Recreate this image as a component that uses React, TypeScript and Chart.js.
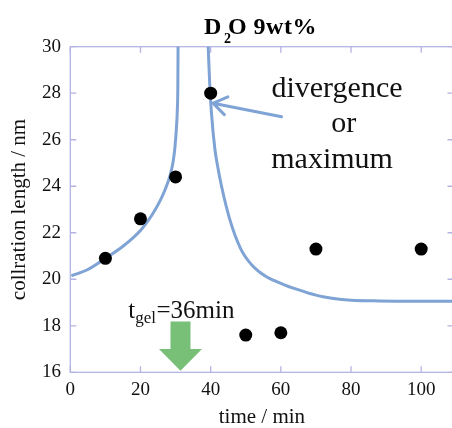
import React, { useEffect, useRef } from "react";
import { Chart, registerables } from "chart.js";

Chart.register(...registerables);

// measured data points
const timeMin = [10, 20, 30, 40, 50, 60, 70, 100];
const corrLength = [20.9, 22.6, 24.4, 28.0, 17.6, 17.7, 21.3, 21.3];

// guide curve: branch before the divergence
const fitLeftT = [0.3, 5, 10, 15, 20, 23, 25.5, 27, 28.4, 29.3, 29.8, 30.2, 30.5, 30.65, 30.72];
const fitLeftY = [20.15, 20.42, 20.9, 21.42, 22.1, 22.7, 23.35, 23.85, 24.45, 25.05, 25.65, 26.4, 27.3, 28.4, 30.4];

// branch after the divergence
const fitRightT = [39.2, 39.4, 39.7, 40.2, 41.2, 42, 43.1, 45.4, 48.6, 51.8, 54, 56, 58, 60, 62, 64, 66, 68, 70, 72, 75, 80, 88, 100, 110];
const fitRightY = [30.4, 29.6, 28.5, 27.2, 25.6, 24.85, 24.0, 22.6, 21.3, 20.6, 20.3, 20.1, 19.95, 19.82, 19.7, 19.6, 19.5, 19.4, 19.32, 19.25, 19.17, 19.1, 19.07, 19.06, 19.06];

const xTicks = [0, 20, 40, 60, 80, 100];
const yTicks = [16, 18, 20, 22, 24, 26, 28, 30];

const titleMain = "D";
const titleSub = "2";
const titleRest = "O";
const titleTail = "9wt%";
const xTitle = "time / min";
const yTitle = "collration length / nm";
const noteLines = ["divergence", "or", "maximum"];
const gelMain = "t";
const gelSub = "gel";
const gelRest = "=36min";

const SERIF = "'Liberation Serif', 'Times New Roman', serif";
const FRAME = "#b4b4e4";
const CURVE = "#7ea3d4";
const GREEN = "#78bf78";

const overlay = {
  id: "overlay",
  beforeDatasetsDraw(chart: any) {
    const { ctx, chartArea: a, scales } = chart;
    const xs = scales.x;
    const ys = scales.y;
    ctx.save();
    ctx.strokeStyle = FRAME;
    ctx.lineWidth = 1.3;
    ctx.strokeRect(a.left, a.top, a.right - a.left, a.bottom - a.top);
    const tl = 6;
    ctx.beginPath();
    xTicks.forEach((v) => {
      const px = xs.getPixelForValue(v);
      ctx.moveTo(px, a.bottom);
      ctx.lineTo(px, a.bottom - tl);
      ctx.moveTo(px, a.top);
      ctx.lineTo(px, a.top + tl);
    });
    yTicks.forEach((v) => {
      const py = ys.getPixelForValue(v);
      ctx.moveTo(a.left, py);
      ctx.lineTo(a.left + tl, py);
      ctx.moveTo(a.right, py);
      ctx.lineTo(a.right - tl, py);
    });
    ctx.stroke();
    ctx.restore();
  },
  afterDatasetsDraw(chart: any) {
    const { ctx, chartArea: a, scales } = chart;
    const xs = scales.x;
    const ys = scales.y;
    const X = (v: number) => xs.getPixelForValue(v);
    const Y = (v: number) => ys.getPixelForValue(v);
    ctx.save();

    // title  D2O 9wt%
    ctx.fillStyle = "#000";
    ctx.textBaseline = "alphabetic";
    ctx.textAlign = "left";
    const fBig = `bold 24px ${SERIF}`;
    const fSub = `bold 14px ${SERIF}`;
    const x0 = (a.left + a.right) / 2 - 58;
    const tBase = 34;
    ctx.font = fBig;
    ctx.fillText(titleMain, x0, tBase);
    ctx.font = fSub;
    ctx.fillText(titleSub, x0 + 20, tBase + 9);
    ctx.font = fBig;
    ctx.fillText(titleRest, x0 + 24, tBase);
    const wO = ctx.measureText(titleRest).width;
    (ctx as any).letterSpacing = "0.5px";
    ctx.fillText(titleTail, x0 + 24 + wO + 7, tBase);
    (ctx as any).letterSpacing = "0px";

    // divergence / or / maximum
    ctx.fillStyle = "#111";
    ctx.font = `30px ${SERIF}`;
    ctx.textAlign = "center";
    ctx.fillText(noteLines[0], X(76), Y(27.85));
    ctx.fillText(noteLines[1], X(77.9), Y(26.33));
    ctx.fillText(noteLines[2], X(74.6), Y(24.78));

    // blue pointer arrow
    const tailX = X(60.2), tailY = Y(26.99);
    const tipX = X(40.7), tipY = Y(27.57);
    ctx.strokeStyle = CURVE;
    ctx.lineWidth = 3;
    ctx.lineCap = "round";
    ctx.beginPath();
    ctx.moveTo(tailX, tailY);
    ctx.lineTo(tipX, tipY);
    const ang = Math.atan2(tailY - tipY, tailX - tipX);
    const len = 16;
    const spread = 0.6;
    ctx.moveTo(tipX + len * Math.cos(ang - spread), tipY + len * Math.sin(ang - spread));
    ctx.lineTo(tipX, tipY);
    ctx.lineTo(tipX + len * Math.cos(ang + spread), tipY + len * Math.sin(ang + spread));
    ctx.stroke();

    // t_gel label
    ctx.textAlign = "left";
    ctx.fillStyle = "#111";
    const gx = X(16.5), gy = Y(18.32);
    ctx.font = `25px ${SERIF}`;
    ctx.fillText(gelMain, gx, gy);
    const wt = ctx.measureText(gelMain).width;
    ctx.font = `17px ${SERIF}`;
    ctx.fillText(gelSub, gx + wt, gy + 4.5);
    const wg = ctx.measureText(gelSub).width;
    ctx.font = `25px ${SERIF}`;
    ctx.fillText(gelRest, gx + wt + wg + 0.5, gy);

    // green block arrow
    const cxp = X(31.4);
    const shaftHalf = 10;
    const headHalf = 21.5;
    const sTop = Y(18.18), hTop = Y(17.0), tip = Y(16.07);
    ctx.fillStyle = GREEN;
    ctx.beginPath();
    ctx.moveTo(cxp - shaftHalf, sTop);
    ctx.lineTo(cxp + shaftHalf, sTop);
    ctx.lineTo(cxp + shaftHalf, hTop);
    ctx.lineTo(cxp + headHalf, hTop);
    ctx.lineTo(cxp, tip);
    ctx.lineTo(cxp - headHalf, hTop);
    ctx.lineTo(cxp - shaftHalf, hTop);
    ctx.closePath();
    ctx.fill();

    ctx.restore();
  },
};

export default function App() {
  const ref = useRef<HTMLCanvasElement | null>(null);

  useEffect(() => {
    if (!ref.current) return;
    const tickFont = { family: SERIF, size: 19 };
    const chart = new Chart(ref.current, {
      data: {
        datasets: [
          {
            type: "scatter",
            data: timeMin.map((t, i) => ({ x: t, y: corrLength[i] })),
            pointRadius: 6.5,
            pointHoverRadius: 6.5,
            pointBackgroundColor: "#000",
            pointBorderWidth: 0,
            order: 0,
          } as any,
          {
            type: "line",
            data: fitLeftT.map((t, i) => ({ x: t, y: fitLeftY[i] })),
            borderColor: CURVE,
            borderWidth: 3,
            pointRadius: 0,
            cubicInterpolationMode: "monotone",
            fill: false,
            clip: 0,
            order: 1,
          } as any,
          {
            type: "line",
            data: fitRightT.map((t, i) => ({ x: t, y: fitRightY[i] })),
            borderColor: CURVE,
            borderWidth: 3,
            pointRadius: 0,
            cubicInterpolationMode: "monotone",
            fill: false,
            clip: 0,
            order: 1,
          } as any,
        ],
      },
      options: {
        responsive: false,
        animation: false,
        devicePixelRatio: 1,
        layout: { padding: { left: 0, top: 46.7, right: 2, bottom: 0 } },
        plugins: {
          legend: { display: false },
          tooltip: { enabled: false },
          title: { display: false },
        },
        scales: {
          x: {
            type: "linear",
            min: 0,
            max: 109.2,
            grid: { display: false, drawTicks: false },
            border: { display: false },
            afterBuildTicks: (s: any) => {
              s.ticks = xTicks.map((v) => ({ value: v }));
            },
            afterFit: (s: any) => {
              s.height = 55.7;
              s.paddingLeft = 0;
              s.paddingRight = 0;
            },
            ticks: {
              font: tickFont,
              color: "#111",
              padding: 6.3,
              maxRotation: 0,
              autoSkip: false,
            },
            title: {
              display: true,
              text: xTitle,
              color: "#111",
              font: { family: SERIF, size: 21, lineHeight: 1 },
              padding: { top: 0, bottom: 0 },
            },
          },
          y: {
            type: "linear",
            min: 16,
            max: 30,
            grid: { display: false, drawTicks: false },
            border: { display: false },
            afterBuildTicks: (s: any) => {
              s.ticks = yTicks.map((v) => ({ value: v }));
            },
            afterFit: (s: any) => {
              s.width = 70.3;
              s.paddingTop = 0;
              s.paddingBottom = 0;
            },
            ticks: {
              font: tickFont,
              color: "#111",
              padding: 9.3,
              autoSkip: false,
            },
            title: {
              display: true,
              text: yTitle,
              color: "#111",
              font: { family: SERIF, size: 21, lineHeight: 1 },
              padding: { top: 8.5, bottom: 0 },
            },
          },
        },
      } as any,
      plugins: [overlay],
    });
    return () => chart.destroy();
  }, []);

  return (
    <div
      style={{
        position: "absolute",
        left: 0,
        top: 0,
        width: 452,
        height: 428,
        overflow: "hidden",
        background: "#fff",
      }}
    >
      <canvas ref={ref} width={460} height={428} style={{ display: "block", width: 460, height: 428 }} />
    </div>
  );
}
